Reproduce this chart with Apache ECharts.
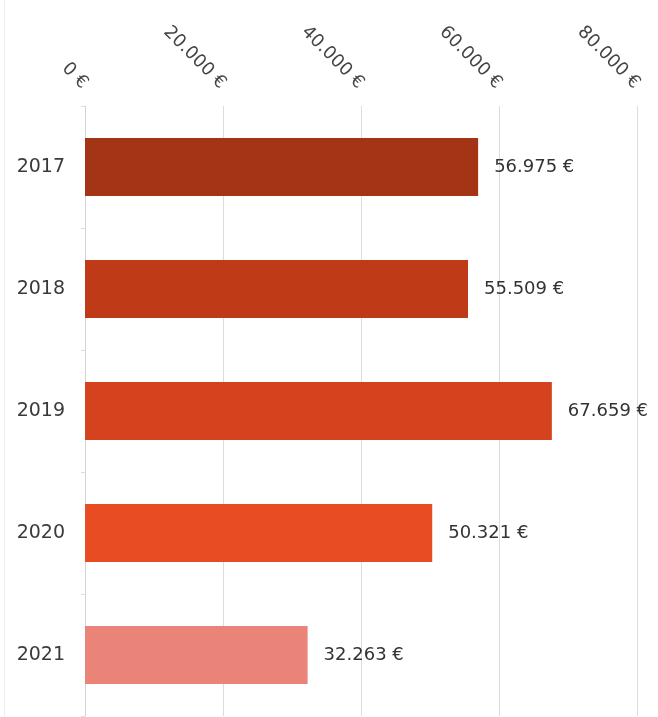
<!DOCTYPE html>
<html>
<head>
<meta charset="utf-8">
<script src="https://cdn.jsdelivr.net/npm/echarts@6/dist/echarts.min.js"></script>
<style>
html,body{margin:0;padding:0;background:#fff;}
#main{width:658px;height:717px;}
</style>
</head>
<body>
<div id="main"></div>
<script>
const years = ['2017', '2018', '2019', '2020', '2021'];
const values = [56975, 55509, 67659, 50321, 32263];
const barColors = ['#a33416', '#bf3b18', '#d4431d', '#e74c22', '#ea8478'];

function fmt(v) {
  return String(Math.round(v)).replace(/\B(?=(\d{3})+(?!\d))/g, '.') + ' €';
}

const chart = echarts.init(document.getElementById('main'), null, {renderer: 'canvas'});
chart.setOption({
  animation: false,
  backgroundColor: '#fff',
  textStyle: {fontFamily: 'DejaVu Sans'},
  graphic: [{
    type: 'line', shape: {x1: 4.5, y1: 0, x2: 4.5, y2: 717},
    style: {stroke: '#eeeeee', lineWidth: 1}
  }],
  grid: {left: 85, right: 21, top: 106, bottom: 1, containLabel: false, outerBoundsMode: 'none'},
  xAxis: {
    type: 'value', position: 'top',
    min: 0, max: 80000, interval: 20000,
    axisLine: {show: false}, axisTick: {show: false},
    axisLabel: {
      show: true, rotate: 45, margin: 20,
      color: '#444', fontSize: 18, fontFamily: 'DejaVu Sans',
      formatter: v => fmt(v)
    },
    splitLine: {show: true, lineStyle: {color: '#dcdcdc', width: 1}}
  },
  yAxis: {
    type: 'category', data: years, inverse: true,
    axisLine: {show: true, lineStyle: {color: '#d0d6e0', width: 1}},
    axisTick: {show: true, length: 4, lineStyle: {color: '#dddddd'}},
    axisLabel: {color: '#3a3a3a', fontSize: 19, margin: 20, fontFamily: 'DejaVu Sans'}
  },
  series: [{
    type: 'bar',
    barWidth: 58,
    data: values.map((v, i) => ({value: v, itemStyle: {color: barColors[i]}})),
    label: {
      show: true, position: 'right', distance: 16,
      color: '#333', fontSize: 18, fontFamily: 'DejaVu Sans',
      formatter: p => fmt(p.value)
    }
  }]
});
</script>
</body>
</html>
